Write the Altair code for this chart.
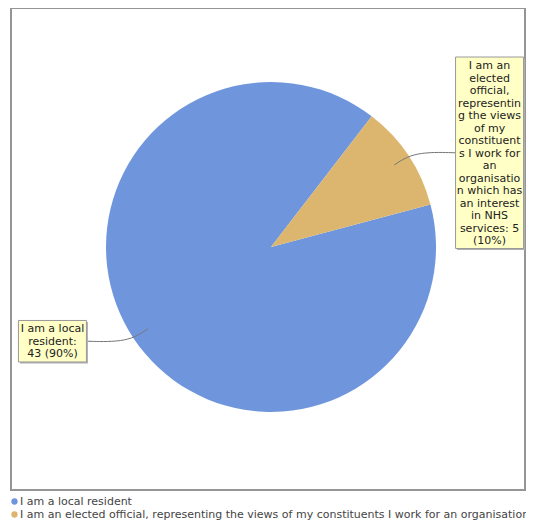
import math
import altair as alt
import pandas as pd

# ---- data ----
categories = [
    "I am a local resident",
    "I am an elected official, representing the views of my constituents I work for an organisation which has an interest in NHS services",
]
counts = [43, 5]
label_lines = [
    ["I am a local", "resident:", "43 (90%)"],
    ["I am an", "elected", "official,", "representin", "g the views", "of my",
     "constituent", "s I work for", "an", "organisatio", "n which has",
     "an interest", "in NHS", "services: 5", "(10%)"],
]
colors = ["#6f96dc", "#dcb66f"]

df = pd.DataFrame({
    "category": categories,
    "count": counts,
    "label": ["\n".join(l) for l in label_lines],
    "nlines": [len(l) for l in label_lines],
    "ord": list(range(len(categories))),
})

# ---- layout constants ----
W, H = 514, 482
CX, CY = 260, 239      # pie centre inside the frame (px from left / top)
START = 1.311          # start angle of first slice (rad, clockwise from 12 o'clock)
R = 165                # pie radius
LR = 238               # label distance
LOFF = 0.18            # label angular shift
BW = 34                # half box width
LH = 12.5              # line height

xs = alt.Scale(domain=[-CX, W - CX], nice=False, zero=False)
ys = alt.Scale(domain=[-(H - CY), CY], nice=False, zero=False)

base = alt.Chart(df)

polar = base.transform_window(
    cum="sum(count)", sort=[alt.SortField("ord")], frame=[None, 0]
).transform_joinaggregate(
    total="sum(count)"
).transform_calculate(
    mid=f"{START} + 2*PI*(datum.cum - datum.count/2)/datum.total"
).transform_calculate(
    la=f"datum.mid + {LOFF}"
).transform_calculate(
    lx=f"{LR}*sin(datum.la)",
    ly=f"{LR}*cos(datum.la)",
    bh=f"datum.nlines*{LH} + 4",
).transform_calculate(
    bx1=f"datum.lx - {BW}",
    bx2=f"datum.lx + {BW}",
    by1="datum.ly - datum.bh/2",
    by2="datum.ly + datum.bh/2",
    ex=f"datum.lx - (datum.lx > 0 ? {BW} : -{BW})",
).transform_calculate(
    ty="datum.by2 - 3",
)

pie = base.mark_arc(outerRadius=R).encode(
    x=alt.X(datum=0, scale=xs, axis=None),
    y=alt.Y(datum=0, scale=ys, axis=None),
    theta=alt.Theta("count:Q", stack=True,
                    scale=alt.Scale(range=[START, START + 2 * math.pi])),
    order=alt.Order("ord:Q"),
    color=alt.Color(
        "category:N",
        scale=alt.Scale(domain=categories, range=colors),
        legend=alt.Legend(
            orient="none", legendX=-2, legendY=488, title=None,
            symbolType="circle", symbolSize=40, symbolStrokeWidth=0,
            labelFontSize=11, labelFont="DejaVu Sans", labelColor="#444",
            labelLimit=3000, rowPadding=1, padding=0, labelOffset=0,
        ),
    ),
)

leaders = polar.transform_calculate(
    px="[148*sin(datum.mid), 172*sin(datum.mid), datum.ex]",
    py="[148*cos(datum.mid), 172*cos(datum.mid), datum.ly]",
    k="[0, 1, 2]",
).transform_flatten(["px", "py", "k"]).mark_line(
    interpolate="basis", color="#777", strokeWidth=1
).encode(
    x=alt.X("px:Q", scale=xs, axis=None),
    y=alt.Y("py:Q", scale=ys, axis=None),
    detail="category:N",
    order="k:Q",
)

shadow = polar.mark_rect(color="#b0b0b0", xOffset=1.5, yOffset=1.5,
                         x2Offset=1.5, y2Offset=1.5).encode(
    x=alt.X("bx1:Q", scale=xs, axis=None),
    x2="bx2:Q",
    y=alt.Y("by1:Q", scale=ys, axis=None),
    y2="by2:Q",
)

boxes = polar.mark_rect(fill="#ffffc6", stroke="#999999", strokeWidth=1).encode(
    x=alt.X("bx1:Q", scale=xs, axis=None),
    x2="bx2:Q",
    y=alt.Y("by1:Q", scale=ys, axis=None),
    y2="by2:Q",
)

texts = polar.mark_text(
    font="DejaVu Sans", fontSize=11, color="#222", lineBreak="\n",
    lineHeight=LH, align="center", baseline="top",
).encode(
    x=alt.X("lx:Q", scale=xs, axis=None),
    y=alt.Y("ty:Q", scale=ys, axis=None),
    text="label:N",
)

chart = alt.layer(pie, leaders, shadow, boxes, texts).properties(
    width=W, height=H,
    autosize=alt.AutoSizeParams(type="none"),
    padding={"left": 3, "top": 0, "right": 1, "bottom": 30},
    background="white",
).configure_view(stroke="#959595", strokeWidth=2)

chart.save("out.html", embed_options={"renderer": "svg", "actions": False})
